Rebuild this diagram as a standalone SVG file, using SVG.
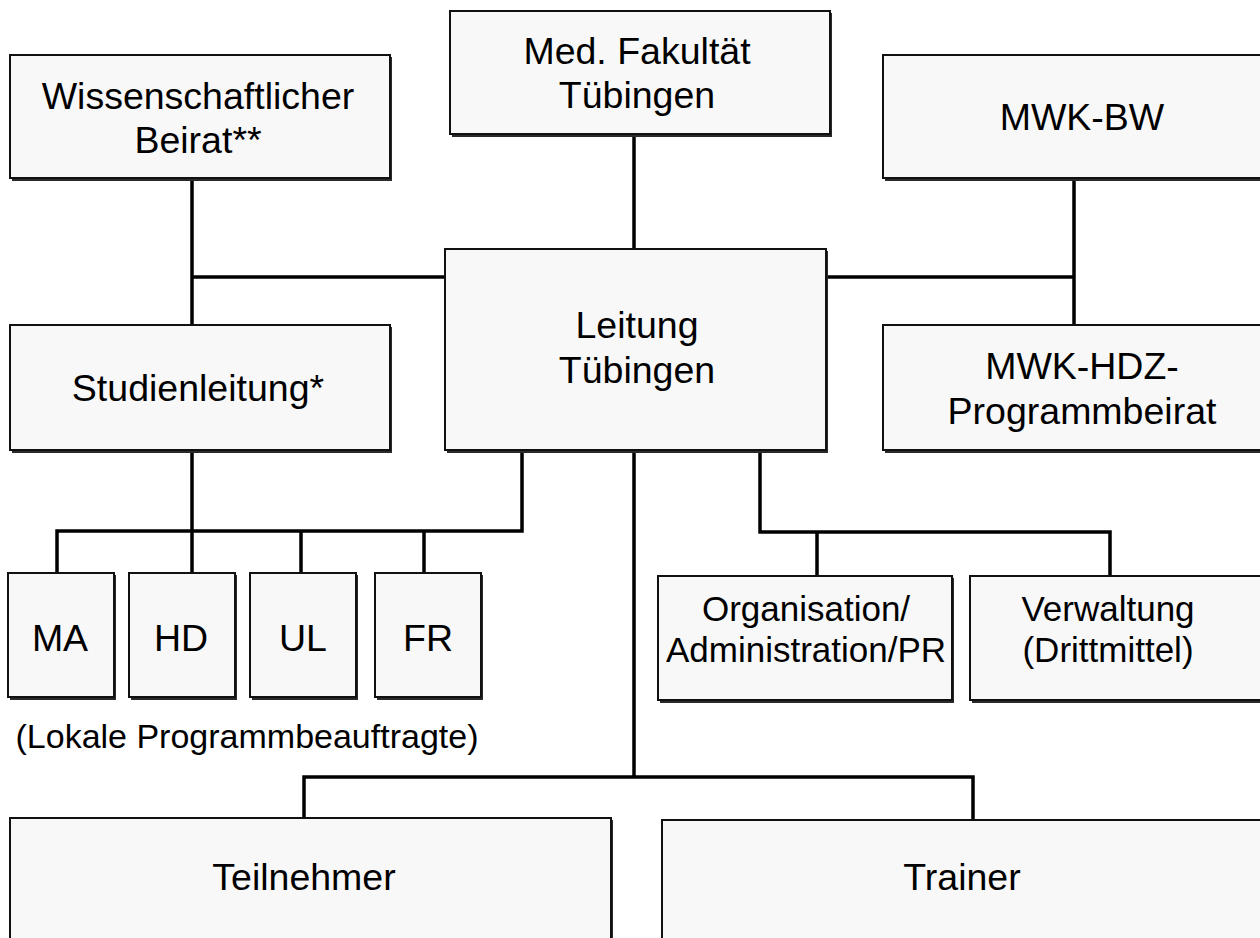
<svg xmlns="http://www.w3.org/2000/svg" width="1260" height="938" viewBox="0 0 1260 938">
<style>
.sh{fill:#2a2a2a}
.bx{fill:#f8f8f8;stroke:#111;stroke-width:2}
.t{font-family:"Liberation Sans",Arial,sans-serif;font-size:37.5px;fill:#000;text-anchor:middle}
.ts{font-family:"Liberation Sans",Arial,sans-serif;font-size:34px;fill:#000;text-anchor:middle}
.to{font-family:"Liberation Sans",Arial,sans-serif;font-size:35px;fill:#000;text-anchor:middle}
.c{stroke:#000;stroke-width:3.5;fill:none;stroke-linecap:square}
</style>
<rect width="1260" height="938" fill="#fff"/>
<g id="connectors">
<path class="c" d="M634,135V249"/>
<path class="c" d="M192,179V325M192,277H445"/>
<path class="c" d="M826,277H1074M1074,179V325"/>
<path class="c" d="M192,451V573"/>
<path class="c" d="M522,451V531H57V573M301,531V573M424,531V573"/>
<path class="c" d="M634,451V777M304,818V777H973V820"/>
<path class="c" d="M760,451V532H1110V576M817,532V576"/>
</g>
<g id="wiss">
<rect class="sh" x="12" y="57" width="380" height="124"/>
<rect class="bx" x="10" y="55" width="380" height="123"/>
<text class="t" x="198" y="109">Wissenschaftlicher</text>
<text class="t" x="198" y="153">Beirat**</text>
</g>
<g id="med">
<rect class="sh" x="452" y="13" width="380" height="124"/>
<rect class="bx" x="450" y="11" width="380" height="123"/>
<text class="t" x="637" y="64">Med. Fakultät</text>
<text class="t" x="637" y="108">Tübingen</text>
</g>
<g id="mwkbw">
<rect class="sh" x="885" y="57" width="400" height="124"/>
<rect class="bx" x="883" y="55" width="400" height="123"/>
<text class="t" x="1082" y="130">MWK-BW</text>
</g>
<g id="studien">
<rect class="sh" x="12" y="327" width="380" height="126"/>
<rect class="bx" x="10" y="325" width="380" height="125"/>
<text class="t" x="198" y="401">Studienleitung*</text>
</g>
<g id="leitung">
<rect class="sh" x="447" y="251" width="381" height="202"/>
<rect class="bx" x="445" y="249" width="381" height="201"/>
<text class="t" x="637" y="338">Leitung</text>
<text class="t" x="637" y="383">Tübingen</text>
</g>
<g id="mwkhdz">
<rect class="sh" x="885" y="327" width="400" height="126"/>
<rect class="bx" x="883" y="325" width="400" height="125"/>
<text class="t" x="1082" y="379">MWK-HDZ-</text>
<text class="t" x="1082" y="424">Programmbeirat</text>
</g>
<g id="ma">
<rect class="sh" x="10" y="575" width="106" height="125"/>
<rect class="bx" x="8" y="573" width="106" height="124"/>
<text class="t" x="60" y="651">MA</text>
</g>
<g id="hd">
<rect class="sh" x="131" y="575" width="106" height="125"/>
<rect class="bx" x="129" y="573" width="106" height="124"/>
<text class="t" x="181" y="651">HD</text>
</g>
<g id="ul">
<rect class="sh" x="252" y="575" width="106" height="125"/>
<rect class="bx" x="250" y="573" width="106" height="124"/>
<text class="t" x="303" y="651">UL</text>
</g>
<g id="fr">
<rect class="sh" x="377" y="575" width="106" height="125"/>
<rect class="bx" x="375" y="573" width="106" height="124"/>
<text class="t" x="428" y="651">FR</text>
</g>
<text class="ts" x="247" y="748">(Lokale Programmbeauftragte)</text>
<g id="org">
<rect class="sh" x="660" y="578" width="294" height="125"/>
<rect class="bx" x="658" y="576" width="294" height="124"/>
<text class="to" x="806" y="621">Organisation/</text>
<text class="to" x="806" y="662">Administration/PR</text>
</g>
<g id="verw">
<rect class="sh" x="972" y="578" width="300" height="125"/>
<rect class="bx" x="970" y="576" width="300" height="124"/>
<text class="to" x="1108" y="621">Verwaltung</text>
<text class="to" x="1108" y="662">(Drittmittel)</text>
</g>
<g id="teil">
<rect class="sh" x="12" y="820" width="601" height="140"/>
<rect class="bx" x="10" y="818" width="601" height="140"/>
<text class="t" x="304" y="890">Teilnehmer</text>
</g>
<g id="trainer">
<rect class="sh" x="664" y="822" width="620" height="140"/>
<rect class="bx" x="662" y="820" width="620" height="140"/>
<text class="t" x="962" y="890">Trainer</text>
</g>
</svg>
